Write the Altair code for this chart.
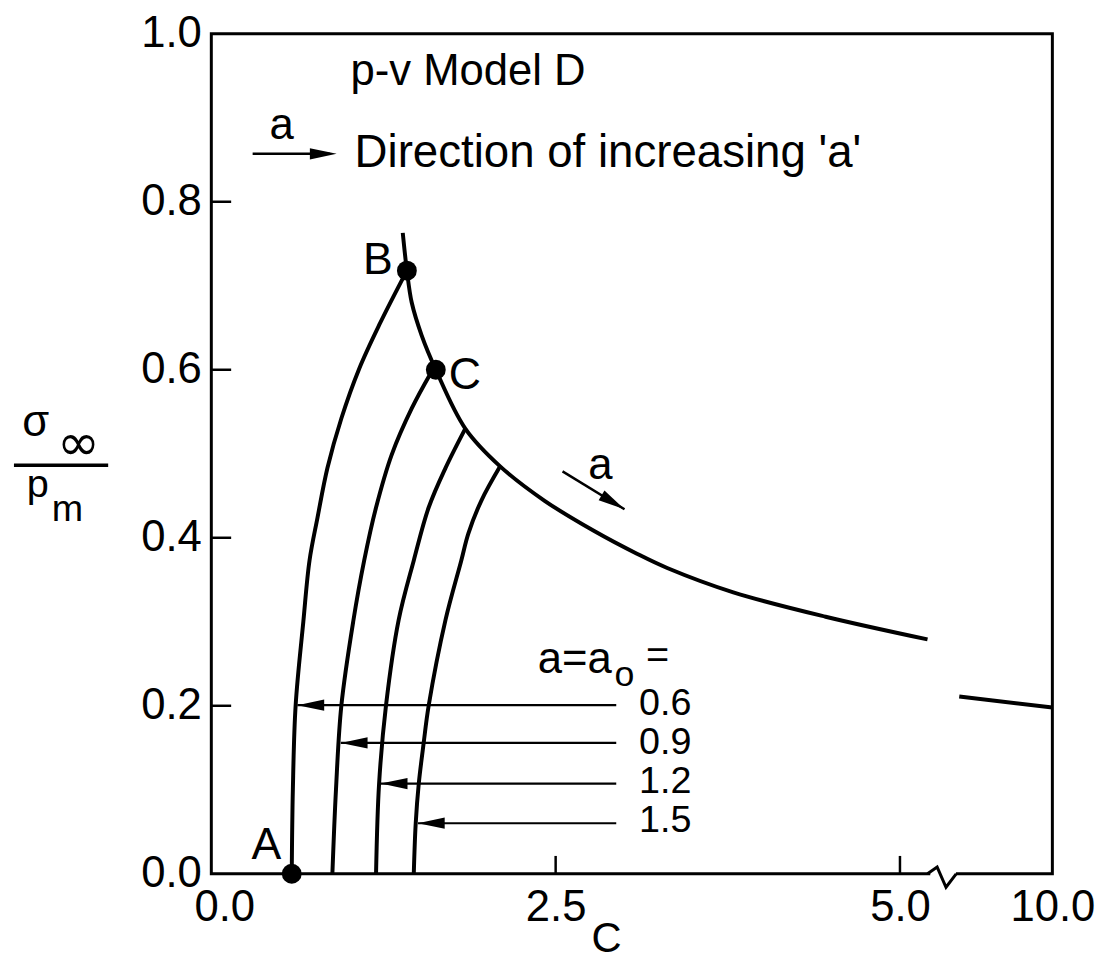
import altair as alt
import pandas as pd

FONT = "Liberation Sans"

# ---------------- values ----------------
A0_VALUES = ["0.6", "0.9", "1.2", "1.5"]

CURVE_06_C = [0.584, 0.592, 0.612, 0.668, 0.713, 0.771, 0.843, 0.944, 1.073, 1.218, 1.42]
CURVE_06_Y = [0.0, 0.1, 0.2, 0.3, 0.373, 0.424, 0.483, 0.542, 0.601, 0.653, 0.718]
CURVE_09_C = [0.879, 0.905, 0.944, 1.03, 1.11, 1.196, 1.31, 1.455, 1.60]
CURVE_09_Y = [0.0, 0.1, 0.2, 0.3, 0.373, 0.436, 0.499, 0.554, 0.598]
CURVE_12_C = [1.196, 1.218, 1.268, 1.36, 1.47, 1.578, 1.70, 1.844]
CURVE_12_Y = [0.0, 0.107, 0.2, 0.302, 0.373, 0.436, 0.483, 0.530]
CURVE_15_C = [1.47, 1.484, 1.506, 1.542, 1.578, 1.70, 1.815, 1.866, 1.96, 2.097]
CURVE_15_Y = [0.0, 0.06, 0.107, 0.156, 0.2, 0.302, 0.373, 0.405, 0.444, 0.485]

ENVELOPE_C = [1.39, 1.42, 1.455, 1.527, 1.63, 1.844, 2.097, 2.42, 2.78, 3.09, 3.31, 3.79, 4.46, 5.20]
ENVELOPE_Y = [0.763, 0.718, 0.680, 0.641, 0.600, 0.530, 0.485, 0.444, 0.408, 0.381, 0.364, 0.335, 0.306, 0.279]
ENVELOPE_TAIL_C = [6.06, 10.0]
ENVELOPE_TAIL_Y = [0.211, 0.198]

POINT_NAMES = ["A", "B", "C"]
POINT_C = [0.584, 1.42, 1.63]
POINT_Y = [0.0, 0.718, 0.600]
POINT_LABEL_C = [0.40, 1.21, 1.84]
POINT_LABEL_Y = [0.034, 0.730, 0.594]

ARROW_Y = [0.2007, 0.1558, 0.1074, 0.0602]
ARROW_TIP_C = [0.625, 0.94, 1.23, 1.50]
ARROW_TAIL_C = [2.94, 2.94, 2.94, 2.94]
A0_LABEL_C = [3.105, 3.105, 3.105, 3.105]
A0_LABEL_Y = [0.2019, 0.1554, 0.1090, 0.0626]

X_TICKS = [0.0, 2.5, 5.0, 10.0]
X_INNER_TICKS = [2.5, 5.0]
Y_TICKS = [0.0, 0.2, 0.4, 0.6, 0.8, 1.0]
Y_INNER_TICKS = [0.2, 0.4, 0.6, 0.8]

# annotation anchors (data units)
TITLE_TEXT = "p-v Model D"
TITLE_C, TITLE_Y = 1.01, 0.954
DIR_TEXT = "Direction of increasing 'a'"
DIR_C, DIR_Y = 1.04, 0.858
DIR_ARROW_C = [0.30, 0.91]
DIR_ARROW_Y = [0.857, 0.857]
DIR_A_C, DIR_A_Y = 0.51, 0.890
ENV_ARROW_C = [2.55, 3.00]
ENV_ARROW_Y = [0.479, 0.434]
ENV_A_C, ENV_A_Y = 2.824, 0.485
AEQ_C, AEQ_Y = 2.37, 0.254
AEQ_SUB_C, AEQ_SUB_Y = 3.00, 0.236
AEQ_EQ_C, AEQ_EQ_Y = 3.24, 0.259
BREAK_C = [5.20, 5.27, 5.50, 5.93]
BREAK_Y = [0.0, 0.008, -0.016, 0.0]

# ---------------- build tables ----------------
def curve_rows(name, cs, ys):
    return [{"curve": name, "i": i, "c": c, "y": y} for i, (c, y) in enumerate(zip(cs, ys))]

rows = []
rows += curve_rows("0.6", CURVE_06_C, CURVE_06_Y)
rows += curve_rows("0.9", CURVE_09_C, CURVE_09_Y)
rows += curve_rows("1.2", CURVE_12_C, CURVE_12_Y)
rows += curve_rows("1.5", CURVE_15_C, CURVE_15_Y)
rows += curve_rows("env", ENVELOPE_C, ENVELOPE_Y)
rows += curve_rows("env_tail", ENVELOPE_TAIL_C, ENVELOPE_TAIL_Y)
curves = pd.DataFrame(rows)

W, H = 848, 847
xs = alt.Scale(domain=[0, 5.3, 10], range=[0, 736, W], nice=False, zero=False)
ys = alt.Scale(domain=[0, 1], nice=False, zero=False)

x_axis = alt.Axis(
    values=X_TICKS, format=".1f", ticks=False, tickSize=0, domain=False, grid=False,
    labelFont=FONT, labelFontSize=44, labelColor="black", labelPadding=12,
    labelFlush=False, labelOverlap=False,
    labelOffset={"condition": {"test": "datum.value == 0", "value": 13}, "value": 0},
    title="C", titleFont=FONT, titleFontSize=42, titleFontWeight="normal",
    titleColor="black", titleX=398, titleY=78, titleAlign="center",
    titleBaseline="alphabetic",
)
y_axis = alt.Axis(
    values=Y_TICKS, format=".1f", ticks=False, tickSize=0, domain=False, grid=False,
    labelFont=FONT, labelFontSize=44, labelColor="black", labelPadding=10,
    labelFlush=False, labelOverlap=False, title=None,
)
X = alt.X("c:Q", scale=xs, axis=x_axis)
Y = alt.Y("y:Q", scale=ys, axis=y_axis)

lines = alt.Chart(curves).mark_line(
    color="black", strokeWidth=4, interpolate="catmull-rom"
).encode(x=X, y=Y, detail="curve:N", order="i:Q")

# inward ticks
xt = alt.Chart(pd.DataFrame({"c": X_INNER_TICKS})).mark_rule(
    color="black", strokeWidth=2.5
).encode(x=X, y=alt.value(H), y2=alt.value(H - 18))
yt = alt.Chart(pd.DataFrame({"y": Y_INNER_TICKS})).mark_rule(
    color="black", strokeWidth=2.5
).encode(y=Y, x=alt.value(0), x2=alt.value(20))

# axis break
brk_df = pd.DataFrame({"c": [BREAK_C[0] + 0.02], "c2": [BREAK_C[-1] - 0.01]})
brk_white = alt.Chart(brk_df).mark_rule(color="white", strokeWidth=7).encode(
    x=X, x2="c2:Q", y=alt.value(H)
)
brk_line = alt.Chart(pd.DataFrame({"c": BREAK_C, "y": BREAK_Y, "i": range(len(BREAK_C))})).mark_line(
    color="black", strokeWidth=3
).encode(x=X, y=Y, order="i:Q")

# a = a0 arrows
arr_df = pd.DataFrame({"c": ARROW_TIP_C, "c2": ARROW_TAIL_C, "y": ARROW_Y})
arr_lines = alt.Chart(arr_df).mark_rule(color="black", strokeWidth=2.2).encode(
    x=X, x2="c2:Q", y=Y
)
LEFT_HEAD = "M0,0L2,-0.42L2,0.42Z"
RIGHT_HEAD = "M0,0L-2,-0.42L-2,0.42Z"
arr_heads = alt.Chart(arr_df).mark_point(
    shape=LEFT_HEAD, size=729, filled=True, color="black", opacity=1, strokeWidth=0
).encode(x=X, y=Y)

a0_labels = alt.Chart(pd.DataFrame({"c": A0_LABEL_C, "y": A0_LABEL_Y, "t": A0_VALUES})).mark_text(
    font=FONT, fontSize=38, align="left", baseline="middle", color="black"
).encode(x=X, y=Y, text="t:N")

# points A, B, C
pts = alt.Chart(pd.DataFrame({"c": POINT_C, "y": POINT_Y})).mark_circle(
    size=400, color="black", opacity=1
).encode(x=X, y=Y)
pt_labels = alt.Chart(pd.DataFrame({"c": POINT_LABEL_C, "y": POINT_LABEL_Y, "t": POINT_NAMES})).mark_text(
    font=FONT, fontSize=45, align="center", baseline="middle", color="black"
).encode(x=X, y=Y, text="t:N")

def text_at(t, c, y, size, align="left"):
    return alt.Chart(pd.DataFrame({"c": [c], "y": [y], "t": [t]})).mark_text(
        font=FONT, fontSize=size, align=align, baseline="middle", color="black"
    ).encode(x=X, y=Y, text="t:N")

title_txt = text_at(TITLE_TEXT, TITLE_C, TITLE_Y, 44)
dir_txt = text_at(DIR_TEXT, DIR_C, DIR_Y, 46)
dir_a = text_at("a", DIR_A_C, DIR_A_Y, 44, "center")
env_a = text_at("a", ENV_A_C, ENV_A_Y, 44, "center")
aeq = text_at("a=a", AEQ_C, AEQ_Y, 44)
aeq_sub = text_at("o", AEQ_SUB_C, AEQ_SUB_Y, 36, "center")
aeq_eq = text_at("=", AEQ_EQ_C, AEQ_EQ_Y, 40, "center")

dir_shaft = alt.Chart(pd.DataFrame({"c": [DIR_ARROW_C[0]], "c2": [DIR_ARROW_C[1] - 0.05], "y": [DIR_ARROW_Y[0]]})).mark_rule(
    color="black", strokeWidth=2.5
).encode(x=X, x2="c2:Q", y=Y)
dir_head = alt.Chart(pd.DataFrame({"c": [DIR_ARROW_C[1]], "y": [DIR_ARROW_Y[1]]})).mark_point(
    shape=RIGHT_HEAD, size=729, filled=True, color="black", opacity=1, strokeWidth=0
).encode(x=X, y=Y)

env_shaft = alt.Chart(pd.DataFrame({"c": ENV_ARROW_C, "y": ENV_ARROW_Y, "i": [0, 1]})).mark_line(
    color="black", strokeWidth=2.5
).encode(x=X, y=Y, order="i:Q")
env_head = alt.Chart(pd.DataFrame({"c": [ENV_ARROW_C[1]], "y": [ENV_ARROW_Y[1]]})).mark_point(
    shape=RIGHT_HEAD, size=729, filled=True, color="black", opacity=1, strokeWidth=0, angle=31
).encode(x=X, y=Y)

# y-axis title: sigma_inf / p_m (placed left of the plot)
def px_text(t, x, y, size, font=FONT):
    return alt.Chart(pd.DataFrame({"t": [t]})).mark_text(
        font=font, fontSize=size, align="center", baseline="alphabetic", color="black"
    ).encode(x=alt.value(x), y=alt.value(y), text="t:N")

yt_sigma = px_text("σ", -177, 406, 44)
yt_inf = px_text("∞", -134, 430, 52, "DejaVu Sans")
yt_p = px_text("p", -175, 467, 40)
yt_m = px_text("m", -145, 491, 38)
yt_bar = alt.Chart(pd.DataFrame({"t": [0]})).mark_rule(color="black", strokeWidth=3.5).encode(
    x=alt.value(-199), x2=alt.value(-104), y=alt.value(435)
)

chart = alt.layer(
    lines, xt, yt, brk_white, brk_line,
    arr_lines, arr_heads, a0_labels,
    pts, pt_labels,
    title_txt, dir_txt, dir_a, dir_shaft, dir_head,
    env_shaft, env_head, env_a, aeq, aeq_sub, aeq_eq,
    yt_sigma, yt_inf, yt_p, yt_m, yt_bar,
).properties(
    width=W, height=H, background="white",
    padding={"left": 4, "top": 0, "right": 2, "bottom": 0},
).configure_view(stroke="black", strokeWidth=3)

chart.save("out.html", embed_options={"renderer": "svg", "actions": False})
